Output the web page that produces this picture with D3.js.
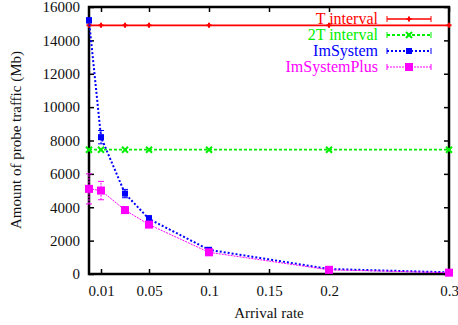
<!DOCTYPE html>
<html><head><meta charset="utf-8">
<script src="https://cdn.jsdelivr.net/npm/d3@7"></script>
<style>body{margin:0;background:#fff}svg text{font-family:'Liberation Serif','DejaVu Serif','Times New Roman',serif !important}</style>
</head><body><svg id="c" width="458" height="325"></svg>
<script>
const xs = [0, 0.01, 0.03, 0.05, 0.1, 0.2, 0.3];
const tInterval = [14900, 14900, 14900, 14900, 14900, 14900, 14900];
const t2Interval = [7450, 7450, 7450, 7450, 7450, 7450, 7450];
const imSystem = [15200, 8200, 4820, 3300, 1450, 300, 100];
const imSystemErr = [150, 400, 250, 200, 80, 40, 20];
const imSystemPlus = [5100, 5000, 3830, 2960, 1300, 250, 80];
const imSystemPlusErr = [900, 550, 200, 150, 80, 40, 20];
const xTicks = [0.01, 0.05, 0.1, 0.15, 0.2, 0.3];
const yTicks = [0, 2000, 4000, 6000, 8000, 10000, 12000, 14000, 16000];
const seriesNames = ["T interval", "2T interval", "ImSystem", "ImSystemPlus"];
const colors = ["#ff0000", "#00ee00", "#0000ff", "#ff00ff"];

const FONT = "'Liberation Serif','DejaVu Serif',serif";
const svg = d3.select("#c");
const L = 89, R = 449, T = 7, B = 274;
const x = d3.scaleLinear().domain([0, 0.3]).range([L, R]);
const y = d3.scaleLinear().domain([0, 16000]).range([B, T]);

const fmt = d => String(d);
const styleAxis = g => {
  g.attr("font-family", FONT);
  g.select(".domain").remove();
  g.selectAll("line").attr("stroke","#000").attr("stroke-width",1.5);
  g.selectAll("text").attr("font-size",15).attr("fill","#111").attr("font-family", FONT);
};
svg.append("g").attr("transform", `translate(0,${B})`)
  .call(d3.axisBottom(x).tickValues(xTicks).tickFormat(fmt).tickSize(-5).tickPadding(11)).call(styleAxis);
svg.append("g").attr("transform", `translate(0,${T})`)
  .call(d3.axisTop(x).tickValues(xTicks).tickFormat("").tickSize(-5)).call(styleAxis);
svg.append("g").attr("transform", `translate(${L},0)`)
  .call(d3.axisLeft(y).tickValues(yTicks).tickFormat(fmt).tickSize(-5).tickPadding(9)).call(styleAxis);
svg.append("g").attr("transform", `translate(${R},0)`)
  .call(d3.axisRight(y).tickValues(yTicks).tickFormat("").tickSize(-5)).call(styleAxis);
svg.append("rect").attr("x",L).attr("y",T).attr("width",R-L).attr("height",B-T)
  .attr("fill","none").attr("stroke","#000").attr("stroke-width",2.5);

svg.append("text").attr("x", 269).attr("y", 318).attr("text-anchor","middle").attr("font-size",15).attr("font-family",FONT).attr("fill","#111").text("Arrival rate");
svg.append("text").attr("transform","translate(21,140) rotate(-90)").attr("text-anchor","middle").attr("font-size",15).attr("font-family",FONT).attr("fill","#111").text("Amount of probe traffic (Mb)");

const line = d3.line().x(d => x(d[0])).y(d => y(d[1]));
const data = [tInterval, t2Interval, imSystem, imSystemPlus];
const errs = [null, null, imSystemErr, imSystemPlusErr];
const dashes = [null, "3,2", "2,2", "2,1"];
const widths = [1.6, 1.8, 2, 1];

function marker(g, i, cx, cy) {
  if (i === 0) {
    g.append("path").attr("d",`M${cx-2.5},${cy}L${cx+2.5},${cy}M${cx},${cy-2.5}L${cx},${cy+2.5}`).attr("stroke",colors[i]).attr("stroke-width",2);
  } else if (i === 1) {
    g.append("path").attr("d",`M${cx-3},${cy-3}L${cx+3},${cy+3}M${cx-3},${cy+3}L${cx+3},${cy-3}`).attr("stroke",colors[i]).attr("stroke-width",2);
  } else if (i === 2) {
    g.append("rect").attr("x",cx-3).attr("y",cy-3).attr("width",6).attr("height",6).attr("fill",colors[i]);
  } else {
    g.append("rect").attr("x",cx-4).attr("y",cy-4).attr("width",8).attr("height",8).attr("fill",colors[i]);
  }
}

data.forEach((vals, i) => {
  const pts = xs.map((v, j) => [v, vals[j]]);
  const g = svg.append("g");
  g.append("path").attr("d", line(pts)).attr("fill","none").attr("stroke", colors[i])
    .attr("stroke-width", widths[i]).attr("stroke-dasharray", dashes[i]);
  if (errs[i]) {
    pts.forEach((p, j) => {
      const e = errs[i][j];
      g.append("line").attr("x1", x(p[0])).attr("x2", x(p[0])).attr("y1", y(p[1]-e)).attr("y2", y(p[1]+e))
        .attr("stroke", colors[i]).attr("stroke-width", 1).attr("stroke-dasharray", "2,1");
      [p[1]-e, p[1]+e].forEach(v => g.append("line").attr("x1", x(p[0])-3).attr("x2", x(p[0])+3).attr("y1", y(v)).attr("y2", y(v)).attr("stroke", colors[i]).attr("stroke-width", 1));
    });
  }
  pts.forEach(p => marker(g, i, x(p[0]), y(p[1])));
});

seriesNames.forEach((name, i) => {
  const ly = 19 + i * 16;
  svg.append("text").attr("x", 378).attr("y", ly + 5).attr("text-anchor","end").attr("font-size",16).attr("font-family",FONT).attr("fill", colors[i]).text(name);
  svg.append("line").attr("x1",387).attr("x2",431).attr("y1",ly).attr("y2",ly).attr("stroke",colors[i])
    .attr("stroke-width",widths[i]).attr("stroke-dasharray",dashes[i]);
  [387,431].forEach(ex => svg.append("line").attr("x1",ex).attr("x2",ex).attr("y1",ly-3).attr("y2",ly+3).attr("stroke",colors[i]).attr("stroke-width",1));
  marker(svg, i, 409, ly);
});
</script></body></html>
